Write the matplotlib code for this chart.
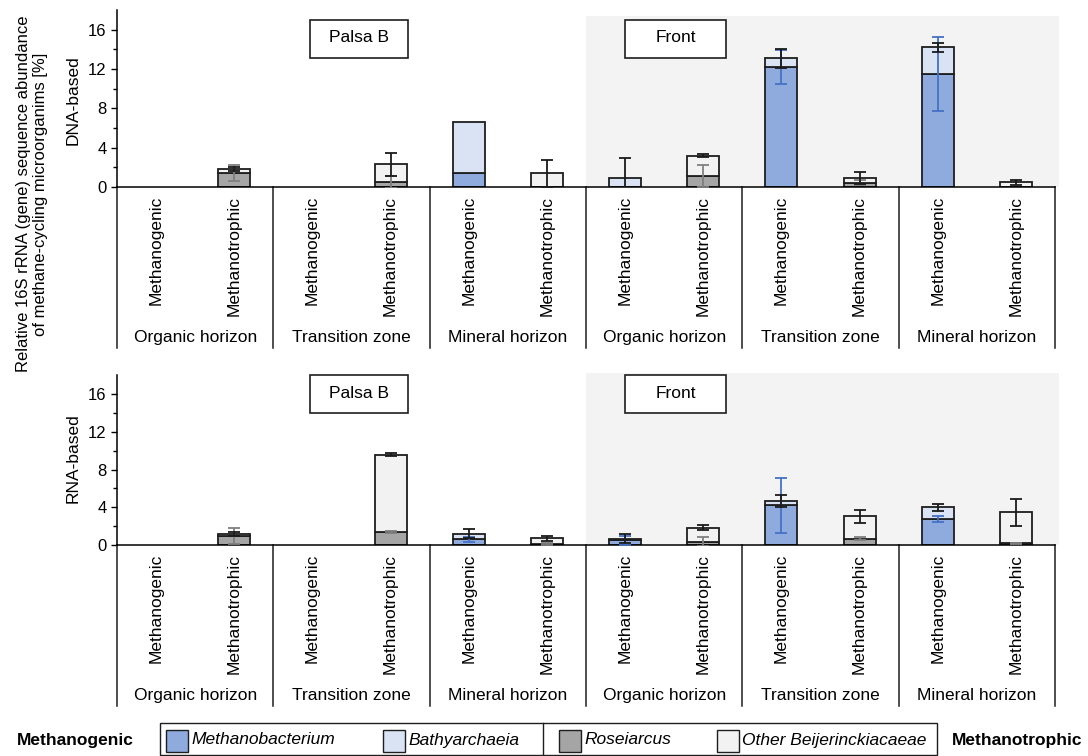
import numpy as np
import matplotlib
matplotlib.use("Agg")
import matplotlib.pyplot as plt
from matplotlib.patches import Rectangle
from matplotlib.transforms import blended_transform_factory

plt.rcParams["font.family"] = ["Liberation Sans", "DejaVu Sans"]
plt.rcParams["font.size"] = 12

# Categories: two sites x three horizons x two guilds
guilds = ["Methanogenic", "Methanotrophic"] * 6
horizons = ["Organic horizon", "Transition zone", "Mineral horizon"] * 2
sites = ["Palsa B", "Front"]

taxa = ["Methanobacterium", "Bathyarchaeia", "Roseiarcus", "Other Beijerinckiacaeae"]

# DNA-based relative abundance [%]
methanobacterium_dna = [0, 0, 0, 0, 1.4, 0, 0, 0, 12.2, 0, 11.5, 0]
bathyarchaeia_dna = [0, 0, 0, 0, 5.2, 0, 0.95, 0, 0.9, 0, 2.7, 0]
roseiarcus_dna = [0, 1.4, 0, 0.5, 0, 0.05, 0, 1.1, 0, 0.45, 0, 0.05]
other_beij_dna = [0, 0.45, 0, 1.8, 0, 1.35, 0, 2.1, 0, 0.48, 0, 0.42]

methanobacterium_dna_err = [0, 0, 0, 0, 0, 0, 0, 0, 1.7, 0, 3.8, 0]
bathyarchaeia_dna_err = [0, 0, 0, 0, 0, 0, 2.0, 0, 0.95, 0, 0.47, 0]
roseiarcus_dna_err = [0, 0.8, 0, 0.6, 0, 0, 0, 1.15, 0, 0.25, 0, 0]
other_beij_dna_err = [0, 0.2, 0, 1.15, 0, 1.35, 0, 0.17, 0, 0.6, 0, 0.25]

# RNA-based relative abundance [%]
methanobacterium_rna = [0, 0, 0, 0, 0.6, 0, 0.5, 0, 4.2, 0, 2.75, 0]
bathyarchaeia_rna = [0, 0, 0, 0, 0.6, 0, 0.17, 0, 0.5, 0, 1.25, 0]
roseiarcus_rna = [0, 1.0, 0, 1.38, 0, 0.15, 0, 0.35, 0, 0.67, 0, 0.2]
other_beij_rna = [0, 0.2, 0, 8.2, 0, 0.55, 0, 1.5, 0, 2.37, 0, 3.27]

methanobacterium_rna_err = [0, 0, 0, 0, 0.3, 0, 0.45, 0, 2.9, 0, 0.35, 0]
bathyarchaeia_rna_err = [0, 0, 0, 0, 0.45, 0, 0.5, 0, 0.65, 0, 0.35, 0]
roseiarcus_rna_err = [0, 0.85, 0, 0.08, 0, 0.1, 0, 0.5, 0, 0.15, 0, 0.05]
other_beij_rna_err = [0, 0.2, 0, 0.15, 0, 0.25, 0, 0.3, 0, 0.7, 0, 1.45]

FILL = {
    "Methanobacterium": "#8FAADC",
    "Bathyarchaeia": "#DAE3F3",
    "Roseiarcus": "#A5A5A5",
    "Other Beijerinckiacaeae": "#F2F2F2",
}
ERR = {
    "Methanobacterium": "#4472C4",
    "Bathyarchaeia": "#1A1A1A",
    "Roseiarcus": "#7F7F7F",
    "Other Beijerinckiacaeae": "#1A1A1A",
}
EDGE = "#1E1E1E"
SHADE = "#F3F3F3"
LABEL_SIZE = 12.5

FIG_W, FIG_H = 1088, 756


def draw_panel(ax, values, errors, shade_top, ax_h_px):
    x = np.arange(len(guilds))
    ax.add_patch(Rectangle((5.5, 0), 6.05, shade_top, facecolor=SHADE,
                           edgecolor="none", zorder=0, clip_on=False))

    # methanogens stack together, methanotrophs stack together
    stacks = [("Methanobacterium", "Bathyarchaeia"),
              ("Roseiarcus", "Other Beijerinckiacaeae")]
    tops = {}
    for group in stacks:
        bottom = np.zeros(len(x))
        for taxon in group:
            vals = np.array(values[taxon], dtype=float)
            mask = vals > 0
            ax.bar(x[mask], vals[mask], bottom=bottom[mask], width=0.41,
                   color=FILL[taxon], edgecolor=EDGE, linewidth=1.3, zorder=2)
            bottom = bottom + vals
            tops[taxon] = bottom.copy()

    for taxon in taxa:
        err = np.array(errors[taxon], dtype=float)
        mask = err > 0
        ax.errorbar(x[mask], tops[taxon][mask], yerr=err[mask], fmt="none",
                    ecolor=ERR[taxon], elinewidth=1.3, capsize=4, capthick=1.3,
                    zorder=4)

    ax.set_xlim(-0.5, 11.5)
    ax.set_ylim(0, 18)
    ax.set_yticks([0, 4, 8, 12, 16])
    ax.set_yticks([2, 6, 10, 14], minor=True)
    ax.tick_params(axis="y", which="major", direction="out", length=4,
                   width=1, labelsize=12)
    ax.tick_params(axis="y", which="minor", direction="out", length=3, width=1)
    ax.set_xticks([])
    ax.spines["top"].set_visible(False)
    ax.spines["right"].set_visible(False)
    ax.spines["left"].set_linewidth(1.1)
    ax.spines["bottom"].set_linewidth(1.1)
    ax.set_facecolor("none")

    # category labels below the axis
    for i, name in enumerate(guilds):
        ax.annotate(name, xy=(i, 0), xycoords=("data", "axes fraction"),
                    xytext=(0, -9), textcoords="offset pixels",
                    rotation=90, ha="center", va="top", fontsize=LABEL_SIZE)
    for k, name in enumerate(horizons):
        ax.annotate(name, xy=(2 * k + 0.5, 0), xycoords=("data", "axes fraction"),
                    xytext=(0, -155), textcoords="offset pixels",
                    ha="center", va="baseline", fontsize=LABEL_SIZE)
    trans = blended_transform_factory(ax.transData, ax.transAxes)
    for b in np.arange(-0.5, 12, 2):
        ax.plot([b, b], [0, -161 / ax_h_px], transform=trans, color="#1E1E1E",
                lw=1.1, clip_on=False)


fig = plt.figure(figsize=(FIG_W / 100, FIG_H / 100), dpi=100)

ax_dna = fig.add_axes([117 / FIG_W, 1 - 187 / FIG_H, 938 / FIG_W, 177 / FIG_H])
ax_rna = fig.add_axes([117 / FIG_W, 1 - 545 / FIG_H, 938 / FIG_W, 169.6 / FIG_H])

draw_panel(ax_dna,
           {"Methanobacterium": methanobacterium_dna, "Bathyarchaeia": bathyarchaeia_dna,
            "Roseiarcus": roseiarcus_dna, "Other Beijerinckiacaeae": other_beij_dna},
           {"Methanobacterium": methanobacterium_dna_err, "Bathyarchaeia": bathyarchaeia_dna_err,
            "Roseiarcus": roseiarcus_dna_err, "Other Beijerinckiacaeae": other_beij_dna_err},
           shade_top=17.4, ax_h_px=177)
draw_panel(ax_rna,
           {"Methanobacterium": methanobacterium_rna, "Bathyarchaeia": bathyarchaeia_rna,
            "Roseiarcus": roseiarcus_rna, "Other Beijerinckiacaeae": other_beij_rna},
           {"Methanobacterium": methanobacterium_rna_err, "Bathyarchaeia": bathyarchaeia_rna_err,
            "Roseiarcus": roseiarcus_rna_err, "Other Beijerinckiacaeae": other_beij_rna_err},
           shade_top=18.3, ax_h_px=169.6)

# overlay in pixel coordinates for site boxes, axis titles and legend
ov = fig.add_axes([0, 0, 1, 1], zorder=5)
ov.set_xlim(0, FIG_W)
ov.set_ylim(FIG_H, 0)
ov.axis("off")

for y0 in (20, 375):
    for (x0, x1), name in zip([(310, 408), (625, 726)], sites):
        ov.add_patch(Rectangle((x0, y0), x1 - x0, 38, facecolor="white",
                               edgecolor="#1E1E1E", lw=1.2))
        ov.text((x0 + x1) / 2, y0 + 18, name, ha="center", va="center",
                fontsize=LABEL_SIZE)

ov.text(32, 194, "Relative 16S rRNA (gene) sequence abundance\nof methane-cycling microorganims [%]",
        rotation=90, ha="center", va="center", fontsize=12, linespacing=1.1)
ov.text(73, 100, "DNA-based", rotation=90, ha="center", va="center", fontsize=LABEL_SIZE)
ov.text(73, 458, "RNA-based", rotation=90, ha="center", va="center", fontsize=LABEL_SIZE)

# legend
ov.add_patch(Rectangle((160, 723), 777, 32, facecolor="white", edgecolor="#1E1E1E", lw=1.0))
ov.plot([543, 543], [723, 755], color="#1E1E1E", lw=1.0)
ov.text(75, 741, "Methanogenic", ha="center", va="center", fontsize=LABEL_SIZE,
        fontweight="bold")
ov.text(1017, 741, "Methanotrophic", ha="center", va="center", fontsize=LABEL_SIZE,
        fontweight="bold")
for taxon, sx in zip(taxa, [166, 383, 559, 717]):
    ov.add_patch(Rectangle((sx, 730), 22, 22, facecolor=FILL[taxon],
                           edgecolor="#1E1E1E", lw=1.0))
    ov.text(sx + 25, 740, taxon, ha="left", va="center", fontsize=LABEL_SIZE,
            style="italic")

fig.savefig("out.png", dpi=100)
